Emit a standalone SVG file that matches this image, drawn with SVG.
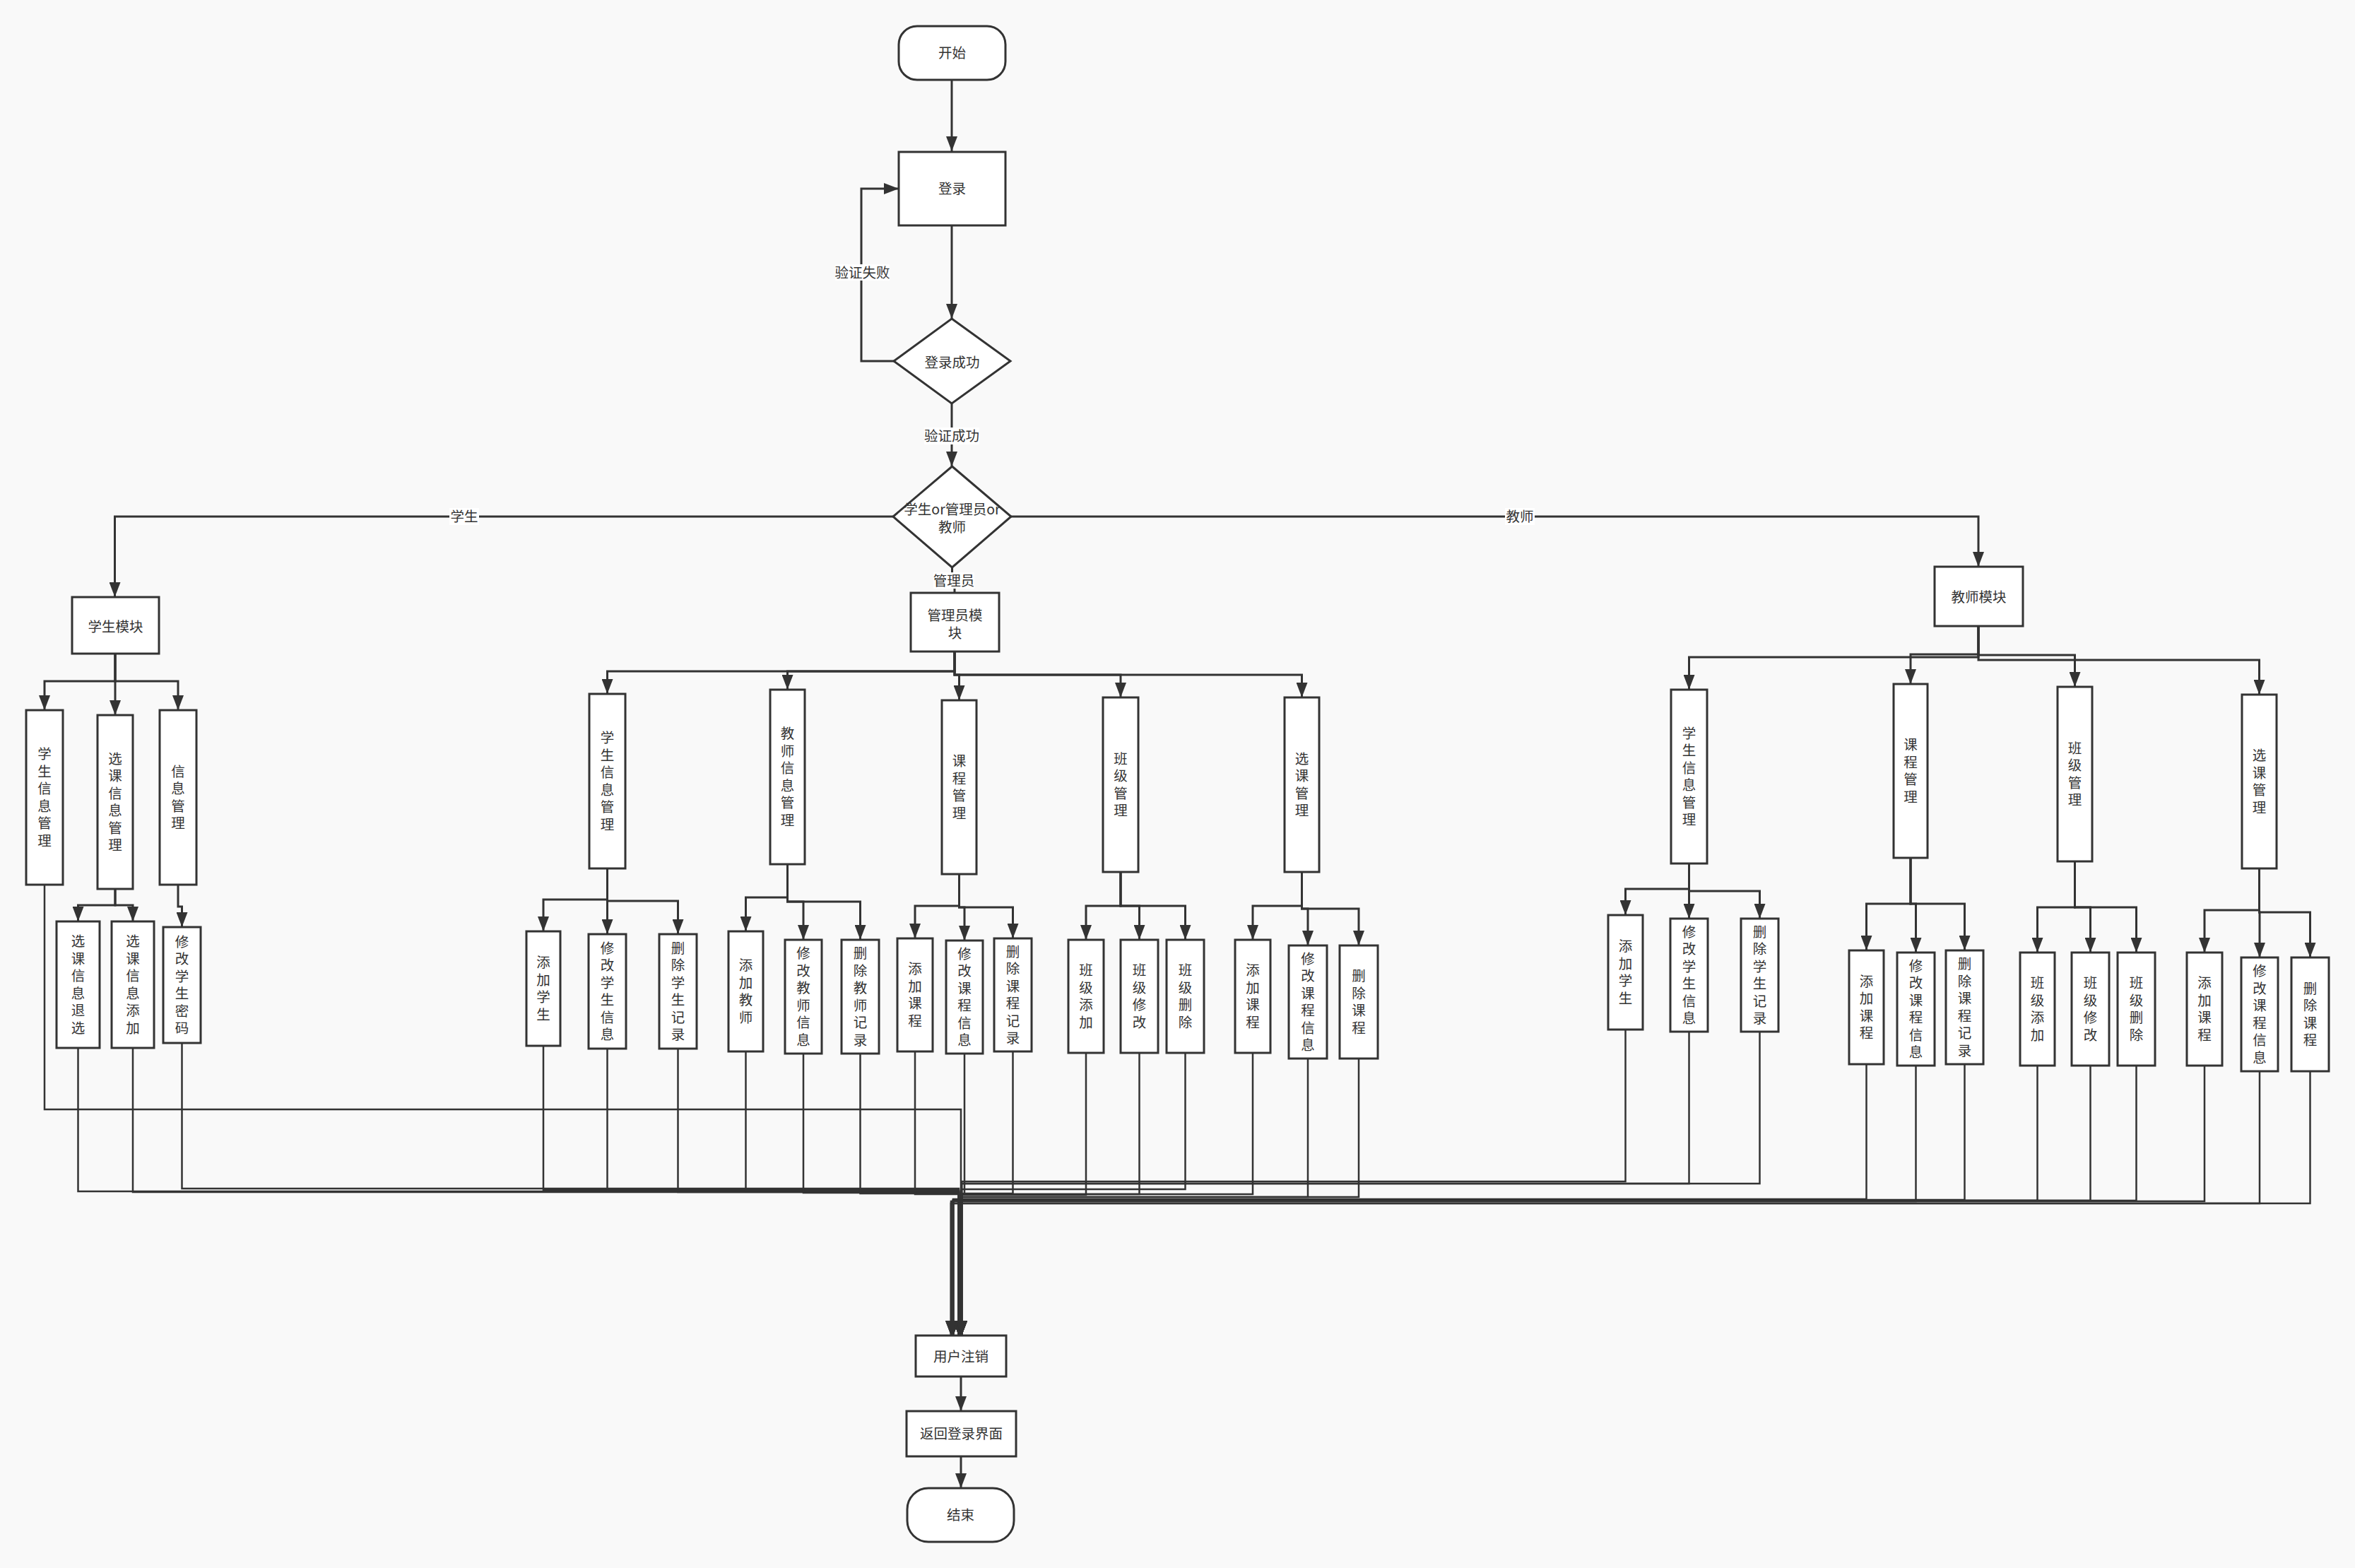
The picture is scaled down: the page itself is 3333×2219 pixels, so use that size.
<svg xmlns="http://www.w3.org/2000/svg" width="3333" height="2219" viewBox="0 0 3333 2219">
<style>
.box{fill:#fff;stroke:#333;stroke-width:3}
.c{fill:none;stroke:#333;stroke-width:3}
.cb{fill:none;stroke:#333;stroke-width:2.5}
.t{font-family:"Noto Sans CJK SC","Noto Sans",sans-serif;font-size:19.5px;fill:#333;text-anchor:middle}
.lb{fill:#fff}
</style>
<defs>
<marker id="arr" viewBox="0 0 21 16" refX="21" refY="8" markerWidth="21" markerHeight="16" markerUnits="userSpaceOnUse" orient="auto"><path d="M0,0 L21,8 L0,16 z" fill="#333"/></marker>
</defs>
<rect width="3333" height="2219" fill="#f9f9f9"/>

<g id="connectors">
<path class="c" d="M1347,113 V214" marker-end="url(#arr)"/>
<path class="c" d="M1347,319 V451" marker-end="url(#arr)"/>
<path class="c" d="M1265,511 H1219 V267 H1272" marker-end="url(#arr)"/>
<path class="c" d="M1347,571 V660" marker-end="url(#arr)"/>
<path class="c" d="M1264,731 H162.5 V845" marker-end="url(#arr)"/>
<path class="c" d="M1431,731 H2800 V802" marker-end="url(#arr)"/>
<path class="c" d="M1347.5,803 V830 H1351 V839"/>
<path class="c" d="M1360,1948 V1997" marker-end="url(#arr)"/>
<path class="c" d="M1360,2061 V2106" marker-end="url(#arr)"/>

<path class="c" d="M163,925 V964 H63 V1005" marker-end="url(#arr)"/>
<path class="c" d="M163,925 V1012" marker-end="url(#arr)"/>
<path class="c" d="M163,925 V964 H252 V1005" marker-end="url(#arr)"/>
<path class="c" d="M163,1258 V1281 H110.5 V1304" marker-end="url(#arr)"/>
<path class="c" d="M163,1258 V1281 H188 V1304" marker-end="url(#arr)"/>
<path class="c" d="M252,1252 V1283 H257.5 V1312" marker-end="url(#arr)"/>

<path class="c" d="M1351,922 V950 H859.5 V982" marker-end="url(#arr)"/>
<path class="c" d="M1351,922 V950 H1114.5 V976" marker-end="url(#arr)"/>
<path class="c" d="M1351,922 V955 H1357.5 V991" marker-end="url(#arr)"/>
<path class="c" d="M1351,922 V955 H1586 V987" marker-end="url(#arr)"/>
<path class="c" d="M1351,922 V955 H1842.5 V987" marker-end="url(#arr)"/>
<path class="c" d="M859.5,1229 V1273 H769 V1318" marker-end="url(#arr)"/>
<path class="c" d="M859.5,1229 V1322" marker-end="url(#arr)"/>
<path class="c" d="M859.5,1229 V1275 H959.5 V1322" marker-end="url(#arr)"/>
<path class="c" d="M1114.5,1223 V1270 H1055.5 V1318" marker-end="url(#arr)"/>
<path class="c" d="M1114.5,1223 V1276 H1137 V1330" marker-end="url(#arr)"/>
<path class="c" d="M1114.5,1223 V1276 H1217.5 V1330" marker-end="url(#arr)"/>
<path class="c" d="M1357.5,1237 V1282 H1295 V1328" marker-end="url(#arr)"/>
<path class="c" d="M1357.5,1237 V1284 H1365 V1331" marker-end="url(#arr)"/>
<path class="c" d="M1357.5,1237 V1284 H1433.5 V1328" marker-end="url(#arr)"/>
<path class="c" d="M1586,1234 V1282 H1537 V1330" marker-end="url(#arr)"/>
<path class="c" d="M1586,1234 V1282 H1612.5 V1330" marker-end="url(#arr)"/>
<path class="c" d="M1586,1234 V1282 H1677.5 V1330" marker-end="url(#arr)"/>
<path class="c" d="M1842.5,1234 V1282 H1773 V1330" marker-end="url(#arr)"/>
<path class="c" d="M1842.5,1234 V1286 H1851 V1338" marker-end="url(#arr)"/>
<path class="c" d="M1842.5,1234 V1286 H1923 V1338" marker-end="url(#arr)"/>

<path class="c" d="M2800,886 V930 H2390.5 V976" marker-end="url(#arr)"/>
<path class="c" d="M2800,886 V926 H2704 V968" marker-end="url(#arr)"/>
<path class="c" d="M2800,886 V927 H2936.5 V972" marker-end="url(#arr)"/>
<path class="c" d="M2800,886 V934 H3197.5 V983" marker-end="url(#arr)"/>
<path class="c" d="M2390.5,1222 V1258 H2300.5 V1295" marker-end="url(#arr)"/>
<path class="c" d="M2390.5,1222 V1300" marker-end="url(#arr)"/>
<path class="c" d="M2390.5,1222 V1261 H2490.5 V1300" marker-end="url(#arr)"/>
<path class="c" d="M2704,1214 V1279 H2641.5 V1345" marker-end="url(#arr)"/>
<path class="c" d="M2704,1214 V1279 H2711.5 V1348" marker-end="url(#arr)"/>
<path class="c" d="M2704,1214 V1279 H2780.5 V1345" marker-end="url(#arr)"/>
<path class="c" d="M2936.5,1219 V1284 H2883.5 V1348" marker-end="url(#arr)"/>
<path class="c" d="M2936.5,1219 V1284 H2958.5 V1348" marker-end="url(#arr)"/>
<path class="c" d="M2936.5,1219 V1284 H3023.5 V1348" marker-end="url(#arr)"/>
<path class="c" d="M3197.5,1229 V1288 H3120 V1348" marker-end="url(#arr)"/>
<path class="c" d="M3197.5,1229 V1291 H3198 V1355" marker-end="url(#arr)"/>
<path class="c" d="M3197.5,1229 V1291 H3269.5 V1355" marker-end="url(#arr)"/>

<path class="cb" d="M63,1252 V1570 H1360 V1890" marker-end="url(#arr)"/>
<path class="cb" d="M110.5,1483 V1686 H1357 V1890" marker-end="url(#arr)"/>
<path class="cb" d="M188,1483 V1687 H1357 V1890" marker-end="url(#arr)"/>
<path class="cb" d="M257.5,1476 V1682 H1357 V1890" marker-end="url(#arr)"/>
<path class="cb" d="M769,1480 V1684 H1357 V1890" marker-end="url(#arr)"/>
<path class="cb" d="M859.5,1484 V1686 H1357 V1890" marker-end="url(#arr)"/>
<path class="cb" d="M959.5,1484 V1687 H1357 V1890" marker-end="url(#arr)"/>
<path class="cb" d="M1055.5,1488 V1685 H1357 V1890" marker-end="url(#arr)"/>
<path class="cb" d="M1137,1491 V1688 H1357 V1890" marker-end="url(#arr)"/>
<path class="cb" d="M1217.5,1491 V1689 H1357 V1890" marker-end="url(#arr)"/>
<path class="cb" d="M1295,1488 V1690 H1357 V1890" marker-end="url(#arr)"/>
<path class="cb" d="M1365,1491 V1690 H1361 V1890" marker-end="url(#arr)"/>
<path class="cb" d="M1433.5,1488 V1689 H1361 V1890" marker-end="url(#arr)"/>
<path class="cb" d="M1537,1490 V1691 H1361 V1890" marker-end="url(#arr)"/>
<path class="cb" d="M1612.5,1490 V1690 H1361 V1890" marker-end="url(#arr)"/>
<path class="cb" d="M1677.5,1490 V1683 H1361 V1890" marker-end="url(#arr)"/>
<path class="cb" d="M1773,1490 V1690 H1361 V1890" marker-end="url(#arr)"/>
<path class="cb" d="M1851,1498 V1694 H1361 V1890" marker-end="url(#arr)"/>
<path class="cb" d="M1923,1498 V1694 H1361 V1890" marker-end="url(#arr)"/>
<path class="cb" d="M2300.5,1457 V1672 H1361 V1890" marker-end="url(#arr)"/>
<path class="cb" d="M2390.5,1460 V1675 H1361 V1890" marker-end="url(#arr)"/>
<path class="cb" d="M2490.5,1460 V1675 H1361 V1890" marker-end="url(#arr)"/>
<path class="cb" d="M2641.5,1506 V1697 H1349 V1890" marker-end="url(#arr)"/>
<path class="cb" d="M2711.5,1508 V1700 H1349 V1890" marker-end="url(#arr)"/>
<path class="cb" d="M2780.5,1506 V1698 H1349 V1890" marker-end="url(#arr)"/>
<path class="cb" d="M2883.5,1508 V1699 H1349 V1890" marker-end="url(#arr)"/>
<path class="cb" d="M2958.5,1508 V1699 H1349 V1890" marker-end="url(#arr)"/>
<path class="cb" d="M3023.5,1508 V1699 H1349 V1890" marker-end="url(#arr)"/>
<path class="cb" d="M3120,1508 V1700 H1346 V1890" marker-end="url(#arr)"/>
<path class="cb" d="M3198,1516 V1703 H1346 V1890" marker-end="url(#arr)"/>
<path class="cb" d="M3269.5,1516 V1703 H1346 V1890" marker-end="url(#arr)"/>

<rect class="lb" x="1182" y="374" width="77" height="23"/>
<text class="t" x="1220.5" y="392.5">验证失败</text>
<rect class="lb" x="1308" y="605" width="78" height="24"/>
<text class="t" x="1347" y="624">验证成功</text>
<rect class="lb" x="1321" y="810" width="58" height="23"/>
<text class="t" x="1350" y="828.5">管理员</text>
<rect class="lb" x="636" y="719" width="42" height="24"/>
<text class="t" x="657" y="738">学生</text>
<rect class="lb" x="2130" y="719" width="42" height="24"/>
<text class="t" x="2151" y="738">教师</text>
</g>

<g id="n_start"><rect class="box" x="1272" y="37" width="151" height="76" rx="26"/><text class="t" x="1347.5" y="82">开始</text></g>
<g id="n_login"><rect class="box" x="1272" y="215" width="151" height="104"/><text class="t" x="1347.5" y="274">登录</text></g>
<g id="n_check"><path class="box" d="M1347,451 L1430,511 L1347,571 L1265,511 Z"/><text class="t" x="1347.5" y="520">登录成功</text></g>
<g id="n_role"><path class="box" d="M1347.5,660 L1431,731 L1347.5,803 L1264,731 Z"/><text class="t" x="1347.5" y="728"><tspan x="1347.5">学生or管理员or</tspan><tspan x="1347.5" dy="24.5">教师</tspan></text></g>
<g id="n_admin"><rect class="box" x="1289" y="839" width="125" height="83"/><text class="t" x="1351.5" y="878"><tspan x="1351.5">管理员模</tspan><tspan x="1351.5" dy="24.5">块</tspan></text></g>
<g id="n_student"><rect class="box" x="102" y="845" width="123" height="80"/><text class="t" x="163.5" y="894">学生模块</text></g>
<g id="n_teacher"><rect class="box" x="2738" y="802" width="125" height="84"/><text class="t" x="2800.5" y="852">教师模块</text></g>
<g id="n_logout"><rect class="box" x="1296" y="1890" width="128" height="58"/><text class="t" x="1360" y="1927">用户注销</text></g>
<g id="n_back"><rect class="box" x="1283" y="1997" width="155" height="64"/><text class="t" x="1360.5" y="2036">返回登录界面</text></g>
<g id="n_end"><rect class="box" x="1284" y="2106" width="151" height="76" rx="30"/><text class="t" x="1359.5" y="2151">结束</text></g>

<g id="s1"><rect class="box" x="37" y="1005" width="52" height="247"/><text class="t" x="63" y="1074.25"><tspan x="63">学</tspan><tspan x="63" dy="24.5">生</tspan><tspan x="63" dy="24.5">信</tspan><tspan x="63" dy="24.5">息</tspan><tspan x="63" dy="24.5">管</tspan><tspan x="63" dy="24.5">理</tspan></text></g>
<g id="s2"><rect class="box" x="138" y="1012" width="50" height="246"/><text class="t" x="163" y="1080.75"><tspan x="163">选</tspan><tspan x="163" dy="24.5">课</tspan><tspan x="163" dy="24.5">信</tspan><tspan x="163" dy="24.5">息</tspan><tspan x="163" dy="24.5">管</tspan><tspan x="163" dy="24.5">理</tspan></text></g>
<g id="s3"><rect class="box" x="226" y="1005" width="52" height="247"/><text class="t" x="252" y="1098.75"><tspan x="252">信</tspan><tspan x="252" dy="24.5">息</tspan><tspan x="252" dy="24.5">管</tspan><tspan x="252" dy="24.5">理</tspan></text></g>
<g id="s21"><rect class="box" x="80" y="1304" width="61" height="179"/><text class="t" x="110.5" y="1339.25"><tspan x="110.5">选</tspan><tspan x="110.5" dy="24.5">课</tspan><tspan x="110.5" dy="24.5">信</tspan><tspan x="110.5" dy="24.5">息</tspan><tspan x="110.5" dy="24.5">退</tspan><tspan x="110.5" dy="24.5">选</tspan></text></g>
<g id="s22"><rect class="box" x="158" y="1304" width="60" height="179"/><text class="t" x="188" y="1339.25"><tspan x="188">选</tspan><tspan x="188" dy="24.5">课</tspan><tspan x="188" dy="24.5">信</tspan><tspan x="188" dy="24.5">息</tspan><tspan x="188" dy="24.5">添</tspan><tspan x="188" dy="24.5">加</tspan></text></g>
<g id="s31"><rect class="box" x="231" y="1312" width="53" height="164"/><text class="t" x="257.5" y="1339.75"><tspan x="257.5">修</tspan><tspan x="257.5" dy="24.5">改</tspan><tspan x="257.5" dy="24.5">学</tspan><tspan x="257.5" dy="24.5">生</tspan><tspan x="257.5" dy="24.5">密</tspan><tspan x="257.5" dy="24.5">码</tspan></text></g>

<g id="a1"><rect class="box" x="834" y="982" width="51" height="247"/><text class="t" x="859.5" y="1051.25"><tspan x="859.5">学</tspan><tspan x="859.5" dy="24.5">生</tspan><tspan x="859.5" dy="24.5">信</tspan><tspan x="859.5" dy="24.5">息</tspan><tspan x="859.5" dy="24.5">管</tspan><tspan x="859.5" dy="24.5">理</tspan></text></g>
<g id="a2"><rect class="box" x="1090" y="976" width="49" height="247"/><text class="t" x="1114.5" y="1045.25"><tspan x="1114.5">教</tspan><tspan x="1114.5" dy="24.5">师</tspan><tspan x="1114.5" dy="24.5">信</tspan><tspan x="1114.5" dy="24.5">息</tspan><tspan x="1114.5" dy="24.5">管</tspan><tspan x="1114.5" dy="24.5">理</tspan></text></g>
<g id="a3"><rect class="box" x="1333" y="991" width="49" height="246"/><text class="t" x="1357.5" y="1084.25"><tspan x="1357.5">课</tspan><tspan x="1357.5" dy="24.5">程</tspan><tspan x="1357.5" dy="24.5">管</tspan><tspan x="1357.5" dy="24.5">理</tspan></text></g>
<g id="a4"><rect class="box" x="1561" y="987" width="50" height="247"/><text class="t" x="1586" y="1080.75"><tspan x="1586">班</tspan><tspan x="1586" dy="24.5">级</tspan><tspan x="1586" dy="24.5">管</tspan><tspan x="1586" dy="24.5">理</tspan></text></g>
<g id="a5"><rect class="box" x="1818" y="987" width="49" height="247"/><text class="t" x="1842.5" y="1080.75"><tspan x="1842.5">选</tspan><tspan x="1842.5" dy="24.5">课</tspan><tspan x="1842.5" dy="24.5">管</tspan><tspan x="1842.5" dy="24.5">理</tspan></text></g>
<g id="a11"><rect class="box" x="745" y="1318" width="48" height="162"/><text class="t" x="769" y="1369.25"><tspan x="769">添</tspan><tspan x="769" dy="24.5">加</tspan><tspan x="769" dy="24.5">学</tspan><tspan x="769" dy="24.5">生</tspan></text></g>
<g id="a12"><rect class="box" x="833" y="1322" width="53" height="162"/><text class="t" x="859.5" y="1348.75"><tspan x="859.5">修</tspan><tspan x="859.5" dy="24.5">改</tspan><tspan x="859.5" dy="24.5">学</tspan><tspan x="859.5" dy="24.5">生</tspan><tspan x="859.5" dy="24.5">信</tspan><tspan x="859.5" dy="24.5">息</tspan></text></g>
<g id="a13"><rect class="box" x="933" y="1322" width="53" height="162"/><text class="t" x="959.5" y="1348.75"><tspan x="959.5">删</tspan><tspan x="959.5" dy="24.5">除</tspan><tspan x="959.5" dy="24.5">学</tspan><tspan x="959.5" dy="24.5">生</tspan><tspan x="959.5" dy="24.5">记</tspan><tspan x="959.5" dy="24.5">录</tspan></text></g>
<g id="a21"><rect class="box" x="1031" y="1318" width="49" height="170"/><text class="t" x="1055.5" y="1373.25"><tspan x="1055.5">添</tspan><tspan x="1055.5" dy="24.5">加</tspan><tspan x="1055.5" dy="24.5">教</tspan><tspan x="1055.5" dy="24.5">师</tspan></text></g>
<g id="a22"><rect class="box" x="1111" y="1330" width="52" height="161"/><text class="t" x="1137" y="1356.25"><tspan x="1137">修</tspan><tspan x="1137" dy="24.5">改</tspan><tspan x="1137" dy="24.5">教</tspan><tspan x="1137" dy="24.5">师</tspan><tspan x="1137" dy="24.5">信</tspan><tspan x="1137" dy="24.5">息</tspan></text></g>
<g id="a23"><rect class="box" x="1191" y="1330" width="53" height="161"/><text class="t" x="1217.5" y="1356.25"><tspan x="1217.5">删</tspan><tspan x="1217.5" dy="24.5">除</tspan><tspan x="1217.5" dy="24.5">教</tspan><tspan x="1217.5" dy="24.5">师</tspan><tspan x="1217.5" dy="24.5">记</tspan><tspan x="1217.5" dy="24.5">录</tspan></text></g>
<g id="a31"><rect class="box" x="1270" y="1328" width="50" height="160"/><text class="t" x="1295" y="1378.25"><tspan x="1295">添</tspan><tspan x="1295" dy="24.5">加</tspan><tspan x="1295" dy="24.5">课</tspan><tspan x="1295" dy="24.5">程</tspan></text></g>
<g id="a32"><rect class="box" x="1339" y="1331" width="52" height="160"/><text class="t" x="1365" y="1356.75"><tspan x="1365">修</tspan><tspan x="1365" dy="24.5">改</tspan><tspan x="1365" dy="24.5">课</tspan><tspan x="1365" dy="24.5">程</tspan><tspan x="1365" dy="24.5">信</tspan><tspan x="1365" dy="24.5">息</tspan></text></g>
<g id="a33"><rect class="box" x="1407" y="1328" width="53" height="160"/><text class="t" x="1433.5" y="1353.75"><tspan x="1433.5">删</tspan><tspan x="1433.5" dy="24.5">除</tspan><tspan x="1433.5" dy="24.5">课</tspan><tspan x="1433.5" dy="24.5">程</tspan><tspan x="1433.5" dy="24.5">记</tspan><tspan x="1433.5" dy="24.5">录</tspan></text></g>
<g id="a41"><rect class="box" x="1512" y="1330" width="50" height="160"/><text class="t" x="1537" y="1380.25"><tspan x="1537">班</tspan><tspan x="1537" dy="24.5">级</tspan><tspan x="1537" dy="24.5">添</tspan><tspan x="1537" dy="24.5">加</tspan></text></g>
<g id="a42"><rect class="box" x="1586" y="1330" width="53" height="160"/><text class="t" x="1612.5" y="1380.25"><tspan x="1612.5">班</tspan><tspan x="1612.5" dy="24.5">级</tspan><tspan x="1612.5" dy="24.5">修</tspan><tspan x="1612.5" dy="24.5">改</tspan></text></g>
<g id="a43"><rect class="box" x="1651" y="1330" width="53" height="160"/><text class="t" x="1677.5" y="1380.25"><tspan x="1677.5">班</tspan><tspan x="1677.5" dy="24.5">级</tspan><tspan x="1677.5" dy="24.5">删</tspan><tspan x="1677.5" dy="24.5">除</tspan></text></g>
<g id="a51"><rect class="box" x="1748" y="1330" width="50" height="160"/><text class="t" x="1773" y="1380.25"><tspan x="1773">添</tspan><tspan x="1773" dy="24.5">加</tspan><tspan x="1773" dy="24.5">课</tspan><tspan x="1773" dy="24.5">程</tspan></text></g>
<g id="a52"><rect class="box" x="1824" y="1338" width="54" height="160"/><text class="t" x="1851" y="1363.75"><tspan x="1851">修</tspan><tspan x="1851" dy="24.5">改</tspan><tspan x="1851" dy="24.5">课</tspan><tspan x="1851" dy="24.5">程</tspan><tspan x="1851" dy="24.5">信</tspan><tspan x="1851" dy="24.5">息</tspan></text></g>
<g id="a53"><rect class="box" x="1896" y="1338" width="54" height="160"/><text class="t" x="1923" y="1388.25"><tspan x="1923">删</tspan><tspan x="1923" dy="24.5">除</tspan><tspan x="1923" dy="24.5">课</tspan><tspan x="1923" dy="24.5">程</tspan></text></g>

<g id="t1"><rect class="box" x="2365" y="976" width="51" height="246"/><text class="t" x="2390.5" y="1044.75"><tspan x="2390.5">学</tspan><tspan x="2390.5" dy="24.5">生</tspan><tspan x="2390.5" dy="24.5">信</tspan><tspan x="2390.5" dy="24.5">息</tspan><tspan x="2390.5" dy="24.5">管</tspan><tspan x="2390.5" dy="24.5">理</tspan></text></g>
<g id="t2"><rect class="box" x="2680" y="968" width="48" height="246"/><text class="t" x="2704" y="1061.25"><tspan x="2704">课</tspan><tspan x="2704" dy="24.5">程</tspan><tspan x="2704" dy="24.5">管</tspan><tspan x="2704" dy="24.5">理</tspan></text></g>
<g id="t3"><rect class="box" x="2912" y="972" width="49" height="247"/><text class="t" x="2936.5" y="1065.75"><tspan x="2936.5">班</tspan><tspan x="2936.5" dy="24.5">级</tspan><tspan x="2936.5" dy="24.5">管</tspan><tspan x="2936.5" dy="24.5">理</tspan></text></g>
<g id="t4"><rect class="box" x="3173" y="983" width="49" height="246"/><text class="t" x="3197.5" y="1076.25"><tspan x="3197.5">选</tspan><tspan x="3197.5" dy="24.5">课</tspan><tspan x="3197.5" dy="24.5">管</tspan><tspan x="3197.5" dy="24.5">理</tspan></text></g>
<g id="t11"><rect class="box" x="2276" y="1295" width="49" height="162"/><text class="t" x="2300.5" y="1346.25"><tspan x="2300.5">添</tspan><tspan x="2300.5" dy="24.5">加</tspan><tspan x="2300.5" dy="24.5">学</tspan><tspan x="2300.5" dy="24.5">生</tspan></text></g>
<g id="t12"><rect class="box" x="2364" y="1300" width="53" height="160"/><text class="t" x="2390.5" y="1325.75"><tspan x="2390.5">修</tspan><tspan x="2390.5" dy="24.5">改</tspan><tspan x="2390.5" dy="24.5">学</tspan><tspan x="2390.5" dy="24.5">生</tspan><tspan x="2390.5" dy="24.5">信</tspan><tspan x="2390.5" dy="24.5">息</tspan></text></g>
<g id="t13"><rect class="box" x="2464" y="1300" width="53" height="160"/><text class="t" x="2490.5" y="1325.75"><tspan x="2490.5">删</tspan><tspan x="2490.5" dy="24.5">除</tspan><tspan x="2490.5" dy="24.5">学</tspan><tspan x="2490.5" dy="24.5">生</tspan><tspan x="2490.5" dy="24.5">记</tspan><tspan x="2490.5" dy="24.5">录</tspan></text></g>
<g id="t21"><rect class="box" x="2617" y="1345" width="49" height="161"/><text class="t" x="2641.5" y="1395.75"><tspan x="2641.5">添</tspan><tspan x="2641.5" dy="24.5">加</tspan><tspan x="2641.5" dy="24.5">课</tspan><tspan x="2641.5" dy="24.5">程</tspan></text></g>
<g id="t22"><rect class="box" x="2685" y="1348" width="53" height="160"/><text class="t" x="2711.5" y="1373.75"><tspan x="2711.5">修</tspan><tspan x="2711.5" dy="24.5">改</tspan><tspan x="2711.5" dy="24.5">课</tspan><tspan x="2711.5" dy="24.5">程</tspan><tspan x="2711.5" dy="24.5">信</tspan><tspan x="2711.5" dy="24.5">息</tspan></text></g>
<g id="t23"><rect class="box" x="2754" y="1345" width="53" height="161"/><text class="t" x="2780.5" y="1371.25"><tspan x="2780.5">删</tspan><tspan x="2780.5" dy="24.5">除</tspan><tspan x="2780.5" dy="24.5">课</tspan><tspan x="2780.5" dy="24.5">程</tspan><tspan x="2780.5" dy="24.5">记</tspan><tspan x="2780.5" dy="24.5">录</tspan></text></g>
<g id="t31"><rect class="box" x="2859" y="1348" width="49" height="160"/><text class="t" x="2883.5" y="1398.25"><tspan x="2883.5">班</tspan><tspan x="2883.5" dy="24.5">级</tspan><tspan x="2883.5" dy="24.5">添</tspan><tspan x="2883.5" dy="24.5">加</tspan></text></g>
<g id="t32"><rect class="box" x="2932" y="1348" width="53" height="160"/><text class="t" x="2958.5" y="1398.25"><tspan x="2958.5">班</tspan><tspan x="2958.5" dy="24.5">级</tspan><tspan x="2958.5" dy="24.5">修</tspan><tspan x="2958.5" dy="24.5">改</tspan></text></g>
<g id="t33"><rect class="box" x="2997" y="1348" width="53" height="160"/><text class="t" x="3023.5" y="1398.25"><tspan x="3023.5">班</tspan><tspan x="3023.5" dy="24.5">级</tspan><tspan x="3023.5" dy="24.5">删</tspan><tspan x="3023.5" dy="24.5">除</tspan></text></g>
<g id="t41"><rect class="box" x="3095" y="1348" width="50" height="160"/><text class="t" x="3120" y="1398.25"><tspan x="3120">添</tspan><tspan x="3120" dy="24.5">加</tspan><tspan x="3120" dy="24.5">课</tspan><tspan x="3120" dy="24.5">程</tspan></text></g>
<g id="t42"><rect class="box" x="3172" y="1355" width="52" height="161"/><text class="t" x="3198" y="1381.25"><tspan x="3198">修</tspan><tspan x="3198" dy="24.5">改</tspan><tspan x="3198" dy="24.5">课</tspan><tspan x="3198" dy="24.5">程</tspan><tspan x="3198" dy="24.5">信</tspan><tspan x="3198" dy="24.5">息</tspan></text></g>
<g id="t43"><rect class="box" x="3243" y="1355" width="53" height="161"/><text class="t" x="3269.5" y="1405.75"><tspan x="3269.5">删</tspan><tspan x="3269.5" dy="24.5">除</tspan><tspan x="3269.5" dy="24.5">课</tspan><tspan x="3269.5" dy="24.5">程</tspan></text></g>
</svg>
